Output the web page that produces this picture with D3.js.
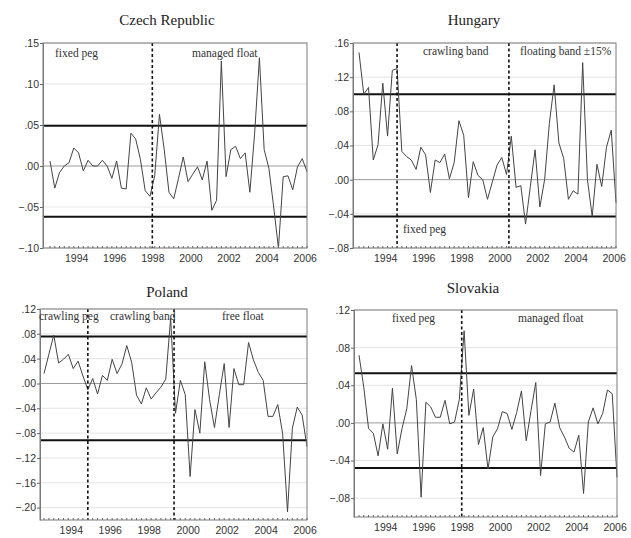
<!DOCTYPE html>
<html>
<head>
<meta charset="utf-8">
<script src="https://cdn.jsdelivr.net/npm/d3@7"></script>
<style>
  body { margin: 0; background: #fff; }
  svg { display: block; }
  .title { font-family: "Liberation Serif", "Times New Roman", serif; font-size: 15px; fill: #222; }
  .note { font-family: "Liberation Serif", "Times New Roman", serif; font-size: 11.5px; fill: #333; }
  .axis text { font-family: "Liberation Sans", Arial, sans-serif; font-size: 10.5px; fill: #333; }
</style>
</head>
<body>
<div id="chart"></div>
<script>
// quarterly observations, first one plotted at START
const START = 1992.625;
const STEP = 0.25;

const yearLabels = [1994, 1996, 1998, 2000, 2002, 2004, 2006];

const czech = [.006, -.027, -.008, .000, .004, .022, .016, -.006, .007, .000,
  .000, .007, .000, -.015, .006, -.027, -.028, .040, .033, .008,
  -.030, -.037, -.012, .063, .020, -.032, -.040, -.015, .011, -.019,
  -.010, -.001, -.017, .006, -.054, -.042, .128, -.013, .020, .024,
  .009, .016, -.032, .040, .132, .020, -.003, -.050, -.100, -.013,
  -.012, -.029, -.001, .009, -.007];

const hungary = [.149, .100, .108, .023, .041, .113, .051, .128, .130, .033,
  .027, .023, .012, .038, .029, -.015, .023, .020, .030, .001,
  .020, .069, .052, -.021, .021, .005, .000, -.023, -.003, .017,
  .026, .006, .051, -.009, -.007, -.052, -.008, .035, -.032, .000,
  .066, .111, .043, .025, -.023, -.013, -.017, .137, .000, -.043,
  .018, -.008, .038, .058, -.027];

const poland = [.016, .047, .078, .033, .039, .047, .024, .036, .012, -.010,
  .008, -.017, .013, .005, .039, .016, .031, .061, .034, -.019,
  -.033, -.007, -.025, -.015, -.006, .007, .105, -.048, .005, -.018,
  -.150, -.042, -.080, .035, -.026, -.071, -.018, .032, -.071, .024,
  -.002, -.002, .066, .038, .018, .005, -.053, -.053, -.034, -.081,
  -.207, -.072, -.038, -.051, -.102];

const slovakia = [.072, .038, -.006, -.011, -.035, -.001, -.028, .037, -.033, -.006,
  .015, .061, .025, -.079, .022, .017, .006, .006, .024, -.001,
  .001, .025, .098, .008, .036, -.023, -.005, -.049, -.015, -.006,
  .012, .010, -.007, .011, .034, -.019, .013, .043, -.056, -.001,
  .001, .021, -.005, -.015, -.027, -.031, -.013, -.075, .001, .016,
  -.001, .010, .035, .031, -.058];

// horizontal band lines (upper, lower)
const czechBands = [.049, -.062];
const hungaryBands = [.100, -.043];
const polandBands = [.0756, -.0914];
const slovakiaBands = [.0527, -.0478];

// regime change dates (dashed lines)
const czechBreaks = [1998.0];
const hungaryBreaks = [1994.625, 2000.5];
const polandBreaks = [1994.875, 1999.3];
const slovakiaBreaks = [1998.0];

const czechTicks = [.15, .10, .05, .00, -.05, -.10];
const hungaryTicks = [.16, .12, .08, .04, .00, -.04, -.08];
const polandTicks = [.12, .08, .04, .00, -.04, -.08, -.12, -.16, -.20];
const slovakiaTicks = [.12, .08, .04, .00, -.04, -.08];

const czechNotes = ["fixed peg", "managed float"];
const hungaryNotes = ["crawling band", "floating band \u00b115%", "fixed peg"];
const polandNotes = ["crawling peg", "crawling band", "free float"];
const slovakiaNotes = ["fixed peg", "managed float"];

const panels = [
  { name: "Czech Republic", values: czech, bands: czechBands, breaks: czechBreaks,
    ticks: czechTicks, yDomain: [-.10, .15], notes: czechNotes,
    left: 43, right: 307, top: 43, bottom: 248, firstX: 50,
    titleX: 167, titleY: 25, notePos: [[55, 57], [192, 57]] },
  { name: "Hungary", values: hungary, bands: hungaryBands, breaks: hungaryBreaks,
    ticks: hungaryTicks, yDomain: [-.08, .16], notes: hungaryNotes,
    left: 353, right: 616, top: 43, bottom: 248, firstX: 359,
    titleX: 474, titleY: 25, notePos: [[423, 55], [520, 55], [403, 233]] },
  { name: "Poland", values: poland, bands: polandBands, breaks: polandBreaks,
    ticks: polandTicks, yDomain: [-.22, .12], notes: polandNotes,
    left: 40, right: 307, top: 309, bottom: 520, firstX: 44,
    titleX: 167, titleY: 297, notePos: [[39, 320], [110, 320], [222, 320]] },
  { name: "Slovakia", values: slovakia, bands: slovakiaBands, breaks: slovakiaBreaks,
    ticks: slovakiaTicks, yDomain: [-.10, .12], notes: slovakiaNotes,
    left: 354, right: 617, top: 310, bottom: 517, firstX: 359,
    titleX: 473, titleY: 293, notePos: [[392, 322], [518, 322]] }
];

const width = 631, height = 538;
const svg = d3.select("#chart").append("svg")
    .attr("width", width)
    .attr("height", height);

const fmt = v => d3.format(".2f")(v).replace("0.", ".");

function drawPanel(p) {
  const g = svg.append("g");
  const dates = p.values.map((_, i) => START + i * STEP);

  const x = d3.scaleLinear()
      .domain([dates[0], dates[dates.length - 1]])
      .range([p.firstX, p.right]);
  const y = d3.scaleLinear()
      .domain(p.yDomain)
      .range([p.bottom, p.top]);

  // grid lines
  g.selectAll(".grid")
    .data(p.ticks)
    .join("line")
      .attr("class", "grid")
      .attr("x1", p.left).attr("x2", p.right)
      .attr("y1", d => y(d)).attr("y2", d => y(d))
      .attr("stroke", d => d === 0 ? "#9a9a9a" : "#e4e4e4")
      .attr("stroke-width", 1);

  // band lines
  g.selectAll(".band")
    .data(p.bands)
    .join("line")
      .attr("class", "band")
      .attr("x1", p.left).attr("x2", p.right)
      .attr("y1", d => y(d)).attr("y2", d => y(d))
      .attr("stroke", "#111")
      .attr("stroke-width", 2);

  // series
  const line = d3.line()
      .x((d, i) => x(dates[i]))
      .y(d => y(d));
  g.append("path")
      .datum(p.values)
      .attr("fill", "none")
      .attr("stroke", "#444")
      .attr("stroke-width", 1)
      .attr("d", line);

  // regime breaks
  g.selectAll(".break")
    .data(p.breaks)
    .join("line")
      .attr("class", "break")
      .attr("x1", d => x(d)).attr("x2", d => x(d))
      .attr("y1", p.top).attr("y2", p.bottom)
      .attr("stroke", "#111")
      .attr("stroke-width", 1.6)
      .attr("stroke-dasharray", "3,2.5");

  // frame
  g.append("rect")
      .attr("x", p.left).attr("y", p.top)
      .attr("width", p.right - p.left)
      .attr("height", p.bottom - p.top)
      .attr("fill", "none")
      .attr("stroke", "#7a7a7a")
      .attr("stroke-width", 1);

  // quarter ticks along the bottom
  g.selectAll(".qtick")
    .data(dates)
    .join("line")
      .attr("class", "qtick")
      .attr("x1", d => x(d)).attr("x2", d => x(d))
      .attr("y1", p.bottom).attr("y2", d => p.bottom - (Math.abs(d % 1) < 1e-6 ? 4 : 2))
      .attr("stroke", "#666");

  // y axis
  const ya = g.append("g")
      .attr("class", "axis")
      .attr("transform", `translate(${p.left},0)`)
      .call(d3.axisLeft(y).tickValues(p.ticks).tickFormat(fmt).tickSize(3).tickSizeOuter(0).tickPadding(1));
  ya.select(".domain").attr("stroke", "#7a7a7a");
  ya.selectAll(".tick line").attr("stroke", "#666");

  // x axis labels
  const xa = g.append("g")
      .attr("class", "axis")
      .attr("transform", `translate(0,${p.bottom})`)
      .call(d3.axisBottom(x).tickValues(yearLabels).tickFormat(d3.format("d")).tickSize(0).tickPadding(7));
  xa.select(".domain").remove();

  // title
  g.append("text")
      .attr("class", "title")
      .attr("x", p.titleX).attr("y", p.titleY)
      .attr("text-anchor", "middle")
      .text(p.name);

  // regime names
  g.selectAll(".note")
    .data(p.notes)
    .join("text")
      .attr("class", "note")
      .attr("x", (d, i) => p.notePos[i][0])
      .attr("y", (d, i) => p.notePos[i][1])
      .text(d => d);
}

panels.forEach(drawPanel);
</script>
</body>
</html>
